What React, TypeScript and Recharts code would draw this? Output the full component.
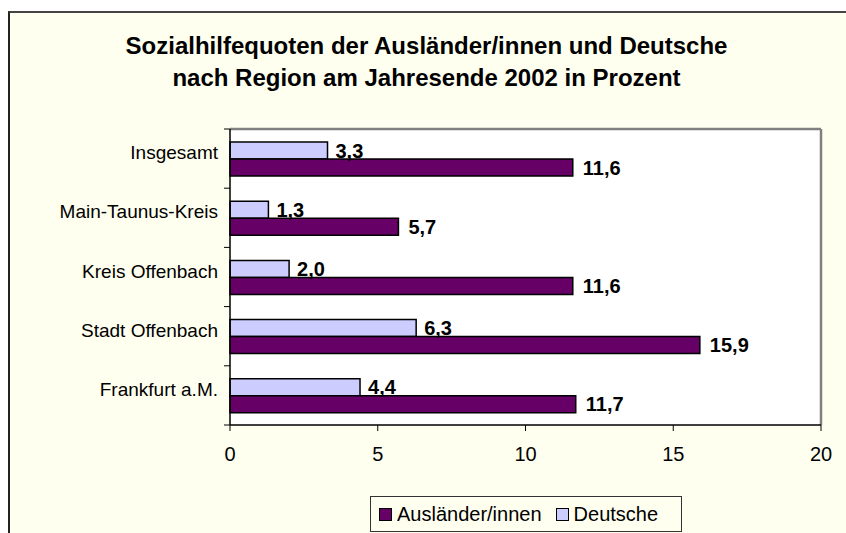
import React from "react";
import { Bar, BarChart, CartesianGrid, LabelList, XAxis, YAxis } from "recharts";

const regions = ["Insgesamt", "Main-Taunus-Kreis", "Kreis Offenbach", "Stadt Offenbach", "Frankfurt a.M."];
const auslaender = [11.6, 5.7, 11.6, 15.9, 11.7];
const deutsche = [3.3, 1.3, 2.0, 6.3, 4.4];
const xTicks = [0, 5, 10, 15, 20];

const data = regions.map((region, i) => ({
  region,
  auslaender: auslaender[i],
  deutsche: deutsche[i],
}));

const W = 846;
const H = 533;
const MARGIN = { top: 129, right: 25, bottom: 68, left: 8 };
const Y_AXIS_W = 222;
const X_AXIS_H = 40;
const PLOT_LEFT = MARGIN.left + Y_AXIS_W;
const PLOT_H = H - MARGIN.top - MARGIN.bottom - X_AXIS_H;
const BAND = PLOT_H / regions.length;

const FONT = "'Liberation Sans', Arial, sans-serif";
const PURPLE = "#660066";
const LILAC = "#CCCCFF";
const CREAM = "#FFFFF0";

const fmt = (v: unknown) => Number(v).toFixed(1).replace(".", ",");

function RegionTick(props: any) {
  const { y, payload, index } = props;
  const top = y - BAND / 2;
  return (
    <g>
      <line x1={PLOT_LEFT - 6} x2={PLOT_LEFT} y1={top} y2={top} stroke="#000" />
      {index === regions.length - 1 && (
        <line x1={PLOT_LEFT - 6} x2={PLOT_LEFT} y1={y + BAND / 2} y2={y + BAND / 2} stroke="#000" />
      )}
      <text
        x={PLOT_LEFT - 12}
        y={y - 6}
        textAnchor="end"
        dominantBaseline="central"
        fontFamily={FONT}
        fontSize={19}
        fill="#000"
      >
        {payload.value}
      </text>
    </g>
  );
}

function LegendBox() {
  const items = [
    { label: "Ausländer/innen", color: PURPLE },
    { label: "Deutsche", color: LILAC },
  ];
  return (
    <div
      style={{
        position: "absolute",
        left: 370,
        top: 496,
        width: 312,
        display: "flex",
        alignItems: "center",
        gap: 14,
        padding: "0 8px",
        height: 36,
        border: "1px solid #333",
        background: CREAM,
        fontFamily: FONT,
        fontSize: 20,
        color: "#000",
        boxSizing: "border-box",
      }}
    >
      {items.map((it) => (
        <span key={it.label} style={{ display: "flex", alignItems: "center", gap: 5 }}>
          <span
            style={{
              width: 11,
              height: 11,
              background: it.color,
              border: "1px solid #000",
              display: "inline-block",
            }}
          />
          {it.label}
        </span>
      ))}
    </div>
  );
}

export default function App() {
  return (
    <div style={{ position: "absolute", left: 0, top: 0, width: W, height: H, overflow: "hidden", background: "#fff" }}>
      <div
        style={{
          position: "absolute",
          left: 8,
          top: 11,
          width: W,
          height: H,
          background: CREAM,
          borderLeft: "2px solid #222",
          borderTop: "2px solid #444",
        }}
      />
      <div
        style={{
          position: "absolute",
          left: 0,
          top: 30,
          width: 853,
          textAlign: "center",
          fontFamily: FONT,
          fontWeight: "bold",
          fontSize: 24,
          lineHeight: "32px",
          color: "#000",
        }}
      >
        Sozialhilfequoten der Ausländer/innen und Deutsche
        <br />
        nach Region am Jahresende 2002 in Prozent
      </div>
      <div style={{ position: "absolute", left: 0, top: 0 }}>
        <BarChart width={W} height={H} data={data} layout="vertical" margin={MARGIN} barGap={0} barSize={17}>
          <CartesianGrid
            fill="#fff"
            stroke="#808080"
            strokeWidth={2.5}
            horizontalCoordinatesGenerator={({ offset }: any) => [offset.top]}
            verticalCoordinatesGenerator={({ offset }: any) => [offset.left + offset.width]}
          />
          <XAxis
            type="number"
            domain={[0, 20]}
            ticks={xTicks}
            height={X_AXIS_H}
            axisLine={{ stroke: "#000", strokeWidth: 1.5 }}
            tickLine={{ stroke: "#000" }}
            tickSize={6}
            tickMargin={16}
            tick={{ fill: "#000", fontFamily: FONT, fontSize: 20 }}
          />
          <YAxis
            type="category"
            dataKey="region"
            width={Y_AXIS_W}
            axisLine={{ stroke: "#000", strokeWidth: 1.5 }}
            tickLine={false}
            tick={<RegionTick />}
            interval={0}
          />
          <Bar dataKey="deutsche" name="Deutsche" fill={LILAC} stroke="#000" strokeWidth={1.5} isAnimationActive={false}>
            <LabelList
              dataKey="deutsche"
              position="right"
              offset={8}
              formatter={fmt}
              style={{ fontFamily: FONT, fontWeight: "bold", fontSize: 20, fill: "#000" }}
            />
          </Bar>
          <Bar dataKey="auslaender" name="Ausländer/innen" fill={PURPLE} stroke="#000" strokeWidth={1.5} isAnimationActive={false}>
            <LabelList
              dataKey="auslaender"
              position="right"
              offset={10}
              formatter={fmt}
              style={{ fontFamily: FONT, fontWeight: "bold", fontSize: 20, fill: "#000" }}
            />
          </Bar>
        </BarChart>
      </div>
      <LegendBox />
    </div>
  );
}
